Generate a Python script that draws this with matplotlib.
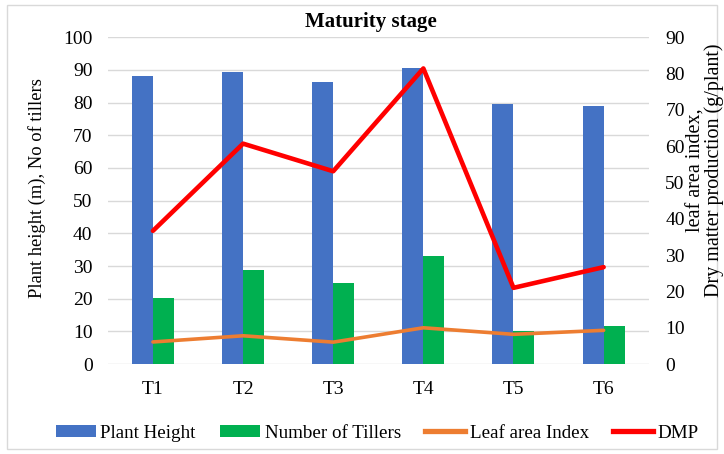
import matplotlib
matplotlib.use("Agg")
import matplotlib.pyplot as plt
import numpy as np
from matplotlib.patches import Rectangle
from matplotlib.lines import Line2D
from matplotlib.patches import Patch

categories = ["T1", "T2", "T3", "T4", "T5", "T6"]
plant_height = [88.1, 89.5, 86.2, 90.7, 79.5, 79.1]
tillers = [20.1, 28.7, 24.9, 33.0, 10.2, 11.7]
lai = [6.1, 7.8, 6.05, 10.0, 8.2, 9.3]
dmp = [36.7, 60.7, 53.1, 81.4, 21.0, 26.7]
left_ticks = list(range(0, 101, 10))
right_ticks = list(range(0, 91, 10))

plt.rcParams['font.family'] = ['Liberation Serif', 'DejaVu Serif']

fig = plt.figure(figsize=(7.24, 4.54), dpi=100)
ax = fig.add_axes([0.149, 0.198, 0.747, 0.720])
ax2 = ax.twinx()

x = np.arange(len(categories))
w = 0.233
ax.bar(x - w / 2, plant_height, w, color="#4472C4", zorder=2)
ax.bar(x + w / 2, tillers, w, color="#00B050", zorder=2)
ax.set_ylim(0, 100)
ax.set_xlim(-0.5, len(categories) - 0.5)
ax.set_yticks(left_ticks)
ax.set_xticks(x)
ax.set_xticklabels(categories)
ax.grid(axis="y", color="#d9d9d9", linewidth=1, zorder=0)
ax.set_axisbelow(True)
for s in ax.spines.values():
    s.set_visible(False)
for s in ax2.spines.values():
    s.set_visible(False)
ax.tick_params(axis="both", length=0, labelsize=14, colors="#000000")
ax.tick_params(axis="y", pad=11)
ax.tick_params(axis="x", pad=12)

ax2.plot(x, lai, color="#ED7D31", linewidth=2.6, solid_capstyle="round", zorder=3)
ax2.plot(x, dmp, color="#FF0000", linewidth=3.3, solid_capstyle="round", zorder=4)
ax2.set_ylim(0, 90)
ax2.set_yticks(right_ticks)
ax2.tick_params(axis="y", length=0, labelsize=14, pad=12)

fig.text(0.512, 0.952, "Maturity stage", ha="center", va="center",
         fontsize=15, fontweight="bold")
fig.text(0.051, 0.586, "Plant height (m), No of tillers", rotation=90,
         ha="center", va="center", fontsize=13.3)
fig.text(0.974, 0.626, "leaf area index,\nDry matter production (g/plant)",
         rotation=90, ha="center", va="center", fontsize=14.5, linespacing=0.95)

handles = [
    Patch(facecolor="#4472C4"),
    Patch(facecolor="#00B050"),
    Line2D([0], [0], color="#ED7D31", linewidth=3.8),
    Line2D([0], [0], color="#FF0000", linewidth=3.8),
]
labels = ["Plant Height", "Number of Tillers", "Leaf area Index", "DMP"]
fig.legend(handles, labels, loc="center", bbox_to_anchor=(0.521, 0.046), ncol=4,
           frameon=False, fontsize=13.7, handlelength=2.1, handleheight=0.55,
           handletextpad=0.25, columnspacing=1.27)

fig.patches.append(Rectangle((0.0097, 0.011), 0.981, 0.977, transform=fig.transFigure,
                             fill=False, edgecolor="#d9d9d9", linewidth=1))

fig.savefig("out.png", dpi=100)
